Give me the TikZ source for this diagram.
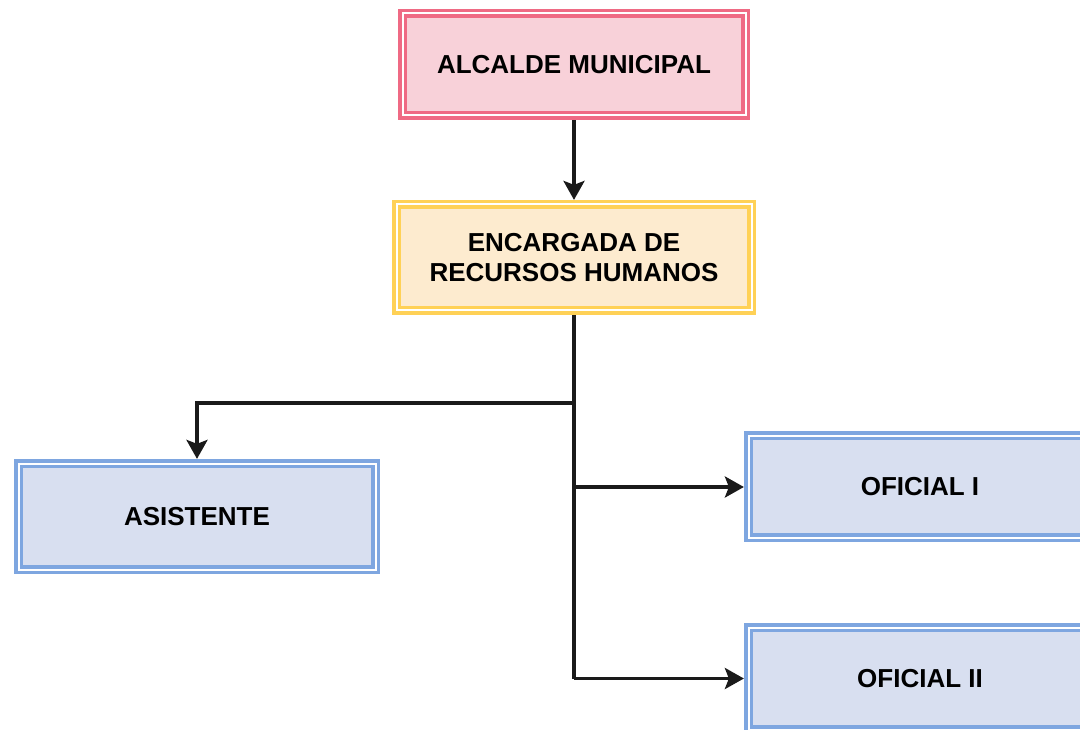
\documentclass[tikz,border=0pt]{standalone}
\usepackage{fontspec}
\setmainfont{Liberation Sans}
\usetikzlibrary{arrows.meta}
\definecolor{pinkS}{HTML}{EF6A84}
\definecolor{pinkF}{HTML}{F8D1D9}
\definecolor{yelS}{HTML}{FFD156}
\definecolor{yelF}{HTML}{FDEBCF}
\definecolor{bluS}{HTML}{7EA6E0}
\definecolor{bluF}{HTML}{D8DFF0}
\definecolor{lineC}{HTML}{1A1A1A}
\tikzset{
  box/.style={rectangle, line width=3.6pt, double=white, double distance=2pt,
    outer sep=4.6pt, inner sep=0pt, align=center,
    font=\fontsize{26}{29.5}\selectfont\bfseries},
  pinkbox/.style={box, draw=pinkS, fill=pinkF},
  yelbox/.style={box, draw=yelS, fill=yelF},
  blubox/.style={box, draw=bluS, fill=bluF},
  conn/.style={draw=lineC, line width=3.6pt},
  arr/.style={conn, -{Stealth[length=19pt,width=21pt,inset=4pt]}}
}
\begin{document}
\begin{tikzpicture}[x=1pt,y=-1pt]
\useasboundingbox (0,0) rectangle (1080,730);
\clip (0,0) rectangle (1080,730);
\node[pinkbox, minimum width=343pt, minimum height=102pt] (alc) at (574,64.5) {ALCALDE MUNICIPAL};
\node[yelbox, minimum width=355pt, minimum height=106pt] (enc) at (574,257.5) {ENCARGADA DE\\RECURSOS HUMANOS};
\node[blubox, minimum width=357pt, minimum height=106pt] (asi) at (197,516.5) {ASISTENTE};
\node[blubox, minimum width=343pt, minimum height=102pt] (of1) at (920,486.5) {OFICIAL I};
\node[blubox, minimum width=343pt, minimum height=102pt] (of2) at (920,678.5) {OFICIAL II};
\coordinate (j1) at (574,403);
\coordinate (j2) at (197,403);
\coordinate (j3) at (574,487);
\coordinate (j4) at (574,678.5);
\draw[arr] (alc.south) -- (enc.north);
\draw[arr] (enc.south) -- (j1) -- (j2) -- (asi.north);
\draw[conn] (j1) -- (j4);
\draw[arr] (j3) -- (j3 -| of1.west);
\draw[arr] (j4) -- (of2.west);
\end{tikzpicture}
\end{document}
